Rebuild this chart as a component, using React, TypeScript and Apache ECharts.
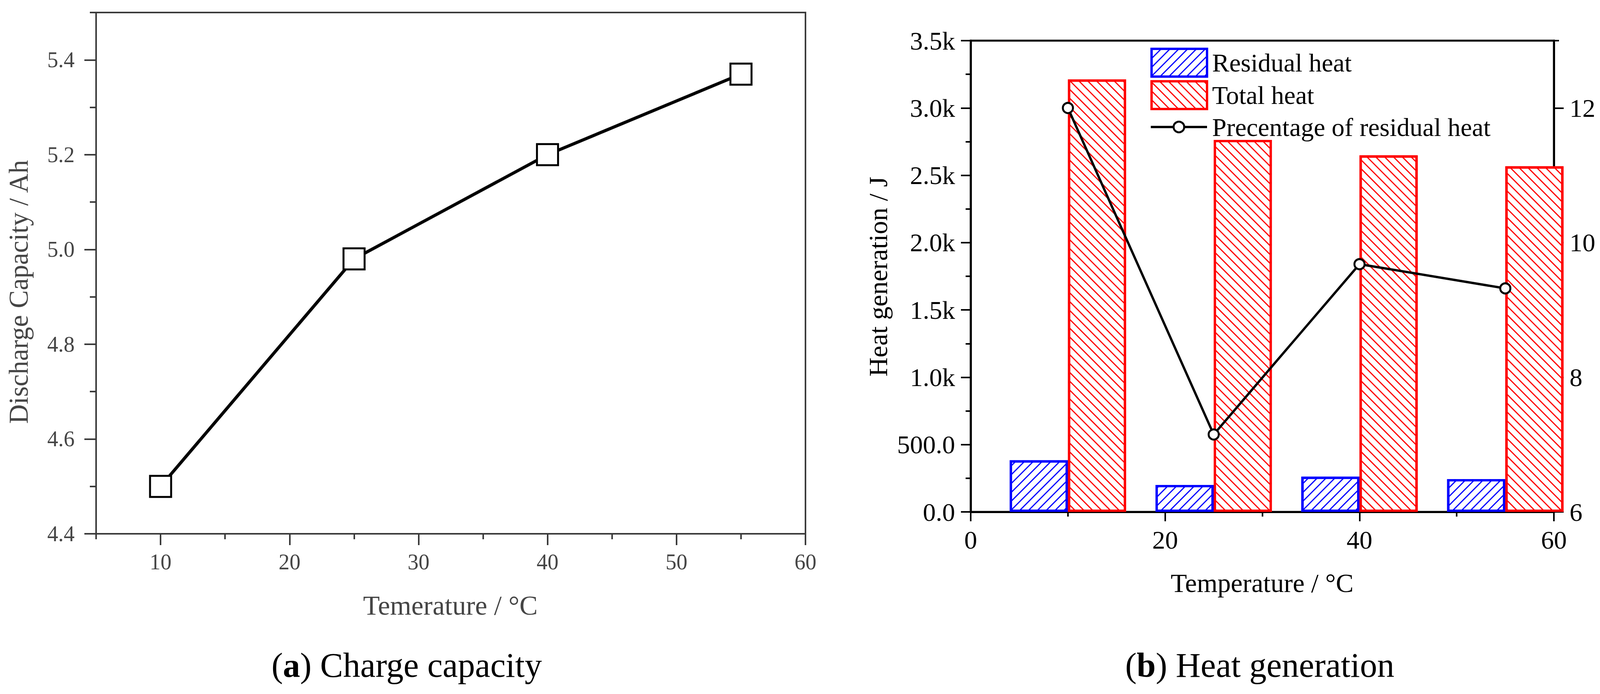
import React, { useEffect, useRef } from 'react';
import * as echarts from 'echarts';

// ---- Panel (a): discharge capacity ----
const capTemps = [10, 25, 40, 55];
const capValues = [4.5, 4.98, 5.2, 5.37];
const capXTicks = [10, 20, 30, 40, 50, 60];
const capYTicks = [4.4, 4.6, 4.8, 5.0, 5.2, 5.4];

// ---- Panel (b): heat generation ----
const heatTemps = [10, 25, 40, 55];
const residualHeat = [384, 200, 262, 244];
const totalHeat = [3212, 2763, 2648, 2567];
const residualPct = [12.0, 7.15, 9.68, 9.32];
const heatXTicks = [0, 20, 40, 60];
const heatYTicks = [0, 500, 1000, 1500, 2000, 2500, 3000, 3500];
const pctTicks = [6, 8, 10, 12];

const SERIF = 'Liberation Serif';
const GRAY_LINE = '#3a3a3a';
const GRAY_TEXT = '#454545';

function heatFmt(v: number) {
  if (v >= 1000) return (v / 1000).toFixed(1) + 'k';
  return v.toFixed(1);
}

function buildOption(): any {
  const hiddenBase = {
    axisLine: { show: false },
    axisLabel: { show: false },
    splitLine: { show: false },
  };
  return {
    animation: false,
    backgroundColor: '#ffffff',
    grid: [
      { left: 246, top: 32, width: 1816, height: 1334, show: true, borderColor: GRAY_LINE, borderWidth: 4, backgroundColor: 'transparent' },
      { left: 2485, top: 104, width: 1493, height: 1206, show: true, borderColor: '#000', borderWidth: 5, backgroundColor: 'transparent' },
    ],
    xAxis: [
      {
        gridIndex: 0, type: 'value', position: 'bottom', min: 5, max: 60, interval: 5,
        axisLine: { lineStyle: { color: GRAY_LINE, width: 4 } },
        axisTick: { inside: false, length: 29, lineStyle: { color: GRAY_LINE, width: 4 }, customValues: capXTicks },
        axisLabel: { customValues: capXTicks, margin: 44, fontSize: 56, fontFamily: SERIF, color: GRAY_TEXT,
          formatter: (v: number) => (v % 10 === 0 ? String(v) : '') },
        splitLine: { show: false },
      },
      {
        gridIndex: 0, type: 'value', position: 'bottom', min: 5, max: 60, interval: 5, ...hiddenBase,
        axisTick: { inside: false, length: 14, lineStyle: { color: GRAY_LINE, width: 4 } },
      },
      {
        gridIndex: 1, type: 'value', position: 'bottom', min: 0, max: 60, interval: 20,
        axisLine: { lineStyle: { color: '#000', width: 5 } },
        axisTick: { inside: false, length: 24, lineStyle: { color: '#000', width: 4 }, customValues: heatXTicks },
        axisLabel: { customValues: heatXTicks, margin: 38, fontSize: 66, fontFamily: SERIF, color: '#000' },
        splitLine: { show: false },
      },
      {
        gridIndex: 1, type: 'value', position: 'bottom', min: 0, max: 60, interval: 10, ...hiddenBase,
        axisTick: { inside: false, length: 12, lineStyle: { color: '#000', width: 4 } },
      },
    ],
    yAxis: [
      {
        gridIndex: 0, type: 'value', position: 'left', min: 4.4, max: 5.5, interval: 0.2,
        axisLine: { show: true, lineStyle: { color: GRAY_LINE, width: 4 } },
        axisTick: { show: true, inside: false, length: 30, lineStyle: { color: GRAY_LINE, width: 4 }, customValues: capYTicks },
        axisLabel: { customValues: capYTicks, margin: 55, fontSize: 56, fontFamily: SERIF, color: GRAY_TEXT,
          formatter: (v: number) => v.toFixed(1) },
        splitLine: { show: false },
      },
      {
        gridIndex: 0, type: 'value', position: 'left', min: 4.4, max: 5.5, interval: 0.1, ...hiddenBase,
        axisTick: { show: true, inside: false, length: 16, lineStyle: { color: GRAY_LINE, width: 4 } },
      },
      {
        gridIndex: 1, type: 'value', min: 0, max: 3500, interval: 500, position: 'left',
        axisLine: { show: true, lineStyle: { color: '#000', width: 5 } },
        axisTick: { show: true, inside: false, length: 25, lineStyle: { color: '#000', width: 4 }, customValues: heatYTicks },
        axisLabel: { customValues: heatYTicks, margin: 40, fontSize: 66, fontFamily: SERIF, color: '#000', formatter: heatFmt },
        splitLine: { show: false },
      },
      {
        gridIndex: 1, type: 'value', min: 0, max: 3500, interval: 250, position: 'left', ...hiddenBase,
        axisTick: { show: true, inside: false, length: 13, lineStyle: { color: '#000', width: 4 } },
      },
      {
        gridIndex: 1, type: 'value', min: 6, max: 13, interval: 2, position: 'right',
        axisLine: { show: true, lineStyle: { color: '#000', width: 5 } },
        axisTick: { show: true, inside: false, length: 25, lineStyle: { color: '#000', width: 4 }, customValues: pctTicks },
        axisLabel: { customValues: pctTicks, margin: 40, fontSize: 66, fontFamily: SERIF, color: '#000' },
        splitLine: { show: false },
      },
      {
        gridIndex: 1, type: 'value', min: 6, max: 13, interval: 1, position: 'right', ...hiddenBase,
        axisTick: { show: true, inside: false, length: 13, lineStyle: { color: '#000', width: 4 } },
      },
    ],
    legend: [
      {
        data: ['Residual heat', 'Total heat'],
        orient: 'vertical', left: 2945, top: 122, padding: 0,
        itemWidth: 142, itemHeight: 71, itemGap: 6, icon: 'rect',
        itemStyle: { borderWidth: 6 },
        textStyle: { fontSize: 66, fontFamily: SERIF, color: '#000', padding: [0, 0, 0, 8] },
        selectedMode: false,
      },
      {
        data: ['Precentage of residual heat'],
        orient: 'vertical', left: 2943, top: 292, padding: 0,
        itemWidth: 144, itemHeight: 34,
        itemStyle: { borderWidth: 5, borderColor: '#000', color: '#fff' },
        lineStyle: { width: 6, color: '#000' },
        textStyle: { fontSize: 66, fontFamily: SERIF, color: '#000', padding: [0, 0, 0, 8] },
        selectedMode: false,
      },
    ],
    series: [
      {
        name: 'Discharge capacity', type: 'line', xAxisIndex: 0, yAxisIndex: 0,
        data: capTemps.map((t, i) => [t, capValues[i]]),
        symbol: 'rect', symbolSize: 54,
        itemStyle: { color: '#fff', borderColor: '#000', borderWidth: 5 },
        lineStyle: { color: '#000', width: 8 },
        z: 3,
      },
      {
        name: 'Residual heat', type: 'bar', xAxisIndex: 2, yAxisIndex: 2,
        data: heatTemps.map((t, i) => [t, residualHeat[i]]),
        barWidth: 149, barGap: '0%',
        itemStyle: {
          color: '#fff', borderColor: '#0000ff', borderWidth: 6,
          decal: { symbol: 'rect', symbolSize: 1, dashArrayX: [1, 0], dashArrayY: [3, 13], rotation: -Math.PI / 4, color: '#0000ff', backgroundColor: '#fff' },
        },
        clip: true,
      },
      {
        name: 'Total heat', type: 'bar', xAxisIndex: 2, yAxisIndex: 2,
        data: heatTemps.map((t, i) => [t, totalHeat[i]]),
        barWidth: 149, barGap: '0%',
        itemStyle: {
          color: '#fff', borderColor: '#ff0000', borderWidth: 6,
          decal: { symbol: 'rect', symbolSize: 1, dashArrayX: [1, 0], dashArrayY: [3, 13], rotation: Math.PI / 4, color: '#ff0000', backgroundColor: '#fff' },
        },
        clip: true,
      },
      {
        name: 'Precentage of residual heat', type: 'line', xAxisIndex: 2, yAxisIndex: 4,
        data: heatTemps.map((t, i) => [t, residualPct[i]]),
        symbol: 'circle', symbolSize: 26,
        itemStyle: { color: '#fff', borderColor: '#000', borderWidth: 5 },
        lineStyle: { color: '#000', width: 6 },
        z: 5,
      },
    ],
    graphic: [
      { type: 'text', x: 48, y: 747, rotation: Math.PI / 2,
        style: { text: 'Discharge Capacity / Ah', fontSize: 69, fontFamily: SERIF, fill: GRAY_TEXT, textAlign: 'center', textVerticalAlign: 'middle' } },
      { type: 'text', x: 1153, y: 1549,
        style: { text: 'Temerature / °C', fontSize: 70, fontFamily: SERIF, fill: GRAY_TEXT, textAlign: 'center', textVerticalAlign: 'middle' } },
      { type: 'text', x: 2248, y: 708, rotation: Math.PI / 2,
        style: { text: 'Heat generation / J', fontSize: 68, fontFamily: SERIF, fill: '#000', textAlign: 'center', textVerticalAlign: 'middle' } },
      { type: 'text', x: 4142, y: 708, rotation: Math.PI / 2,
        style: { text: 'Precentage of residual heat / %', fontSize: 68, fontFamily: SERIF, fill: '#000', textAlign: 'center', textVerticalAlign: 'middle' } },
      { type: 'text', x: 3231, y: 1492,
        style: { text: 'Temperature / °C', fontSize: 68, fontFamily: SERIF, fill: '#000', textAlign: 'center', textVerticalAlign: 'middle' } },
      { type: 'text', x: 1041, y: 1702,
        style: { text: '({b|a}) Charge capacity', fontSize: 88, fontFamily: SERIF, fill: '#000', textAlign: 'center', textVerticalAlign: 'middle',
          rich: { b: { fontSize: 88, fontFamily: SERIF, fontWeight: 'bold', fill: '#000' } } } },
      { type: 'text', x: 3225, y: 1702,
        style: { text: '({b|b}) Heat generation', fontSize: 88, fontFamily: SERIF, fill: '#000', textAlign: 'center', textVerticalAlign: 'middle',
          rich: { b: { fontSize: 88, fontFamily: SERIF, fontWeight: 'bold', fill: '#000' } } } },
    ],
  };
}

export default function App() {
  const ref = useRef<HTMLDivElement>(null);
  useEffect(() => {
    document.body.style.margin = '0';
    if (!ref.current) return;
    const chart = echarts.init(ref.current, undefined, { renderer: 'svg' });
    chart.setOption(buildOption());
    return () => chart.dispose();
  }, []);
  return <div ref={ref} style={{ position: 'absolute', left: 0, top: 0, width: 4196, height: 1776, background: '#fff' }} />;
}
